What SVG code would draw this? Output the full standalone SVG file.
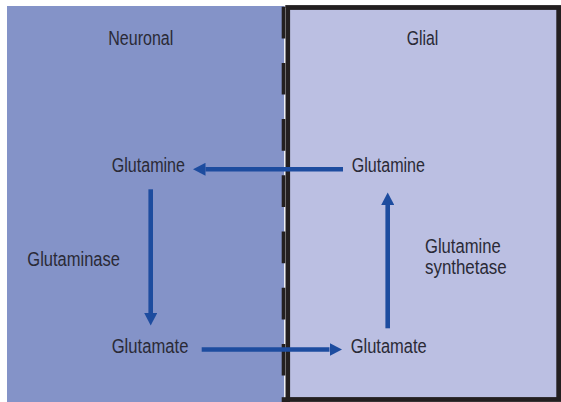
<svg xmlns="http://www.w3.org/2000/svg" width="561" height="402" viewBox="0 0 561 402">
<style>
.lbl{font-family:"Liberation Sans",Arial,sans-serif;font-size:20px;fill:#2a2a36;}
.conn{stroke:#1d4c9f;stroke-width:4.6;fill:none;}
</style>
<defs>
<marker id="ah" markerUnits="userSpaceOnUse" markerWidth="13" markerHeight="13" refX="0" refY="6.5" orient="auto">
<path d="M0,0 L12.5,6.5 L0,13 z" fill="#1d4c9f"/>
</marker>
</defs>
<rect width="561" height="402" fill="#ffffff"/>
<g id="neuronal-panel">
<rect x="7" y="6" width="277.5" height="396" fill="#8493c8"/>
<text class="lbl" x="108.3" y="45" textLength="65" lengthAdjust="spacingAndGlyphs">Neuronal</text>
</g>
<g id="glial-panel">
<rect x="287.7" y="7.5" width="271" height="392" fill="#bbbfe2" stroke="#231f20" stroke-width="4.8"/>
<text class="lbl" x="406.7" y="45" textLength="31.6" lengthAdjust="spacingAndGlyphs">Glial</text>
</g>
<g id="membrane">
<line x1="284.8" y1="8" x2="284.8" y2="402" stroke="#ffffff" stroke-width="1"/>
<line x1="283.5" y1="6.7" x2="283.5" y2="376" stroke="#231f20" stroke-width="3.6" stroke-dasharray="31.7 24.5"/>
<line x1="281.7" y1="399.6" x2="290" y2="399.6" stroke="#231f20" stroke-width="4.8"/>
</g>
<g id="n-glutamine">
<text class="lbl" x="111.7" y="171.5" textLength="73.3" lengthAdjust="spacingAndGlyphs">Glutamine</text>
</g>
<g id="g-glutamine">
<text class="lbl" x="351.7" y="171.5" textLength="73.3" lengthAdjust="spacingAndGlyphs">Glutamine</text>
</g>
<g id="n-glutamate">
<text class="lbl" x="111.7" y="353" textLength="76.7" lengthAdjust="spacingAndGlyphs">Glutamate</text>
</g>
<g id="g-glutamate">
<text class="lbl" x="350.7" y="353" textLength="76" lengthAdjust="spacingAndGlyphs">Glutamate</text>
</g>
<g id="glutaminase">
<text class="lbl" x="27.3" y="266" textLength="92.7" lengthAdjust="spacingAndGlyphs">Glutaminase</text>
</g>
<g id="glutamine-synthetase">
<text class="lbl" x="425" y="253" textLength="75.7" lengthAdjust="spacingAndGlyphs">Glutamine</text>
<text class="lbl" x="425" y="274" textLength="81.7" lengthAdjust="spacingAndGlyphs">synthetase</text>
</g>
<g id="connectors">
<line class="conn" x1="343" y1="169.3" x2="205.5" y2="169.3" marker-end="url(#ah)"/>
<line class="conn" x1="201.7" y1="349.5" x2="329.5" y2="349.5" marker-end="url(#ah)"/>
<line class="conn" x1="150.7" y1="189.3" x2="150.7" y2="313" marker-end="url(#ah)"/>
<line class="conn" x1="387.7" y1="328.3" x2="387.7" y2="205" marker-end="url(#ah)"/>
</g>
</svg>
